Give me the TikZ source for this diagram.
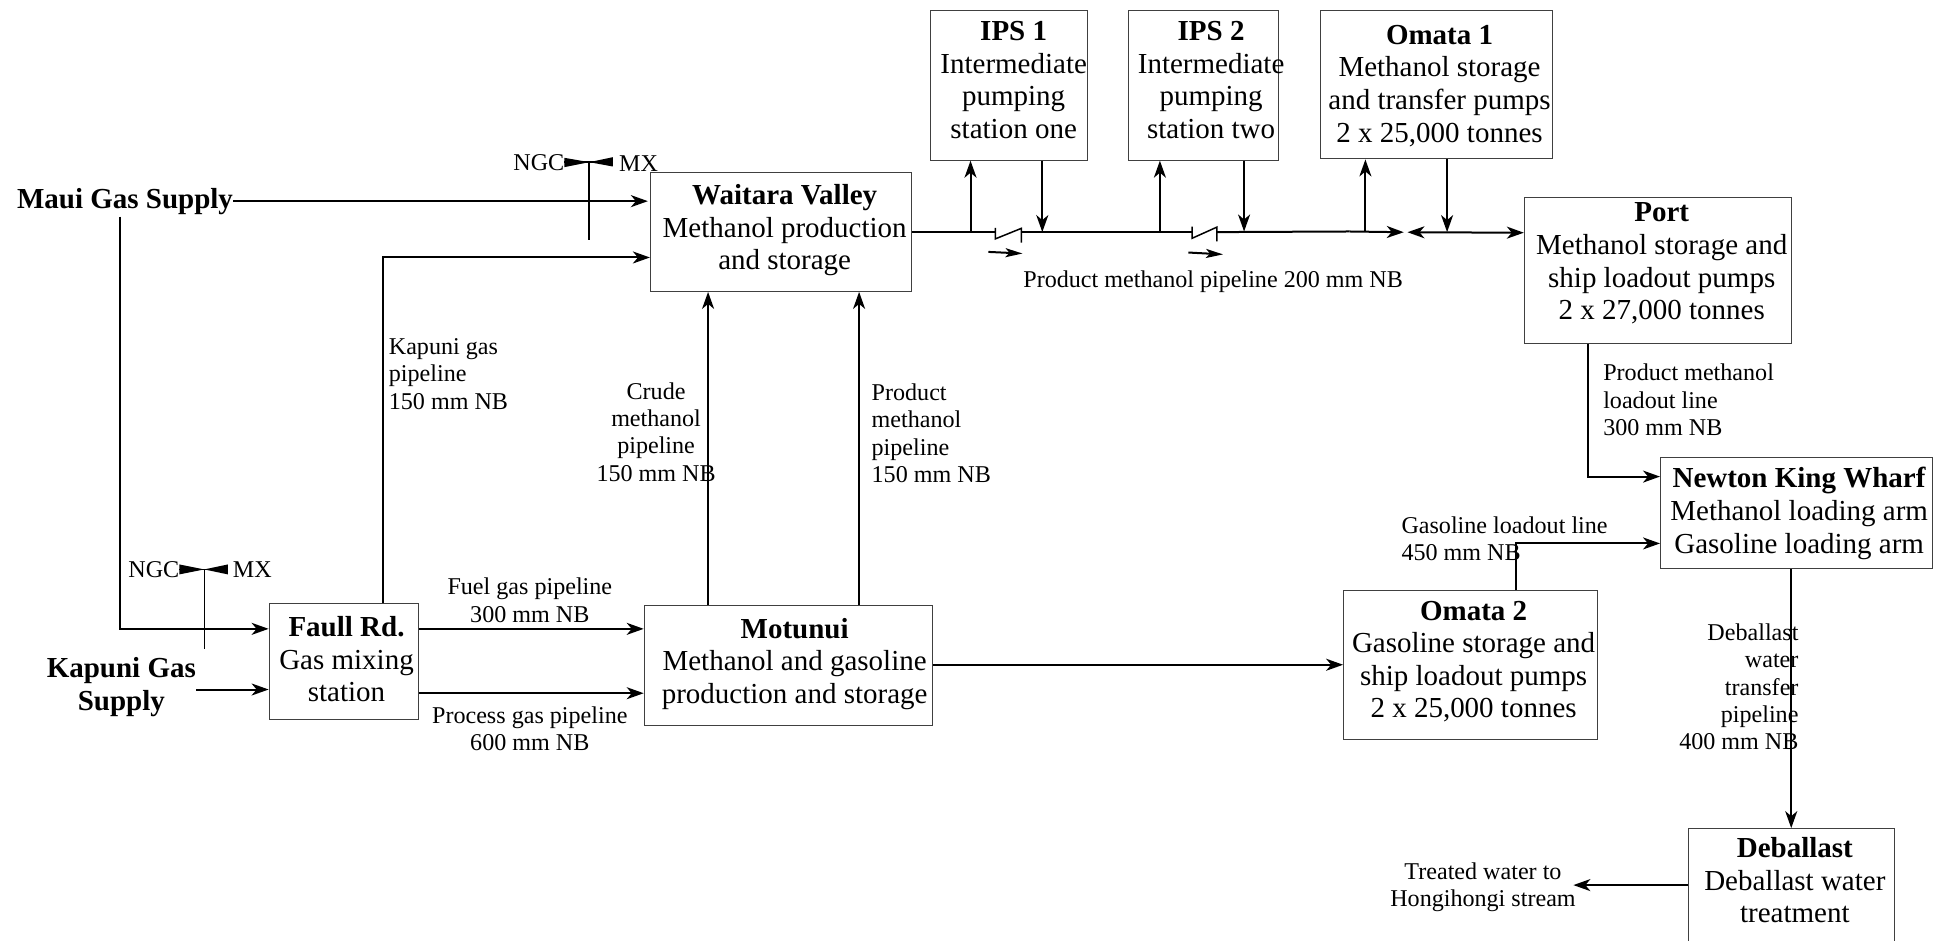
\documentclass[tikz,border=0pt]{standalone}
\usepackage{fontspec}
\setmainfont{Liberation Serif}
\usetikzlibrary{arrows.meta}
\newcommand{\bigf}{\fontsize{29pt}{32.6pt}\selectfont}
\newcommand{\labf}{\fontsize{24.1pt}{27.3pt}\selectfont}
\tikzset{
  box/.style={draw=black!75,line width=1pt,inner sep=0pt,font=\bigf},
  lbl/.style={inner sep=0pt,font=\labf},
  pipe/.style={line width=2pt,black},
  arr/.style={pipe,-{Stealth[length=17pt,width=12pt,inset=5pt]}},
  thinp/.style={line width=1.5pt,black},
}
% text set in a zero-size box, so that it can overhang its box as in the reference
% args: right-shift, rise (pt), rows
\newcommand{\boxtext}[3]{\makebox[0pt][c]{\hspace*{\dimexpr 2\dimexpr #1pt\relax\relax}\raisebox{\dimexpr #2pt-7.25pt\relax}[0pt][0pt]{\begin{tabular}{@{}c@{}}#3\end{tabular}}}}
% name, x0,y0,x1,y1, text right-shift, text rise, rows
\newcommand{\bx}[8]{%
  \node[box,minimum width=#4*1.238pt-#2*1.238pt,minimum height=#5*1.238pt-#3*1.238pt,anchor=north west] (#1) at (#2,#3)
  {\boxtext{#6}{#7}{#8}};}
\begin{document}
\begin{tikzpicture}[x=1.238pt,y=-1.238pt]
\useasboundingbox (0,0) rectangle (1568,760.1);
% boxes
\bx{ips1}{751}{8}{878}{129}{4.9}{3.4}{\textbf{IPS 1}\\Intermediate\\pumping\\station one}
\bx{ips2}{911}{8}{1032}{129}{8}{3.4}{\textbf{IPS 2}\\Intermediate\\pumping\\station two}
\bx{om1}{1066}{8}{1254}{128}{3.1}{-0.9}{\textbf{Omata 1}\\Methanol storage\\and transfer pumps\\2 x 25,000 tonnes}
\bx{port}{1231}{159}{1447}{277}{3.7}{7.2}{\textbf{Port}\\Methanol storage and\\ship loadout pumps\\2 x 27,000 tonnes}
\bx{wv}{525}{139}{736}{235}{3.7}{2.5}{\textbf{Waitara Valley}\\Methanol production\\and storage}
\bx{nk}{1341}{369}{1561}{459}{2.5}{0}{\textbf{Newton King Wharf}\\Methanol loading arm\\Gasoline loading arm}
\bx{om2}{1085}{477}{1290}{597}{3.1}{3.7}{\textbf{Omata 2}\\Gasoline storage and\\ship loadout pumps\\2 x 25,000 tonnes}
\bx{mot}{520}{489}{753}{586}{6.2}{2.8}{\textbf{Motunui}\\Methanol and gasoline\\production and storage}
\bx{faull}{217}{487}{338}{581}{2.5}{0}{\textbf{Faull Rd.}\\Gas mixing\\station}
\node[box,draw=none,minimum width=166*1.238pt,minimum height=84*1.238pt,anchor=north west] (deb) at (1364,669) {\boxtext{3.1}{-2.1}{\textbf{Deballast}\\Deballast water\\treatment}};
\draw[draw=black!75,line width=1pt] (deb.west |- 0,775) |- (deb.north east) -- (deb.east |- 0,775);
% source labels
\node[inner sep=0pt,font=\bigf\bfseries] (maui) at (101,162.5) {Maui Gas Supply};
\node[inner sep=0pt,font=\bigf\bfseries,align=center] (kap) at (98,555) {Kapuni Gas\\Supply};
% text labels
\node[lbl,align=left,anchor=west] (l1) at (314,302) {Kapuni gas\\pipeline\\150 mm NB};
\node[lbl,align=center] (l2) at (428,485) {Fuel gas pipeline\\300 mm NB};
\node[lbl,align=center] (l3) at (428,588.5) {Process gas pipeline\\600 mm NB};
\node[lbl,align=center] (l4) at (530,349) {Crude\\methanol\\pipeline\\150 mm NB};
\node[lbl,align=left,anchor=west] (l5) at (704,350) {Product\\methanol\\pipeline\\150 mm NB};
\node[lbl] (l6) at (980,227.5) {Product methanol pipeline 200 mm NB};
\node[lbl,align=left,anchor=west] (l7) at (1295,323) {Product methanol\\loadout line\\300 mm NB};
\node[lbl,align=left,anchor=west] (l8) at (1132,435) {Gasoline loadout line\\450 mm NB};
\node[lbl,align=right,anchor=east] (l9) at (1453,555) {Deballast\\water\\transfer\\pipeline\\400 mm NB};
\node[lbl,align=center] (l10) at (1198,717) {Treated water to\\Hongihongi stream};
\node[lbl,anchor=east] (ngc1) at (456,131) {NGC};
\node[lbl,anchor=west] (mx1) at (500,132) {MX};
\node[lbl,anchor=east] (ngc2) at (145,460) {NGC};
\node[lbl,anchor=west] (mx2) at (188,460) {MX};
% coordinates
\coordinate (v1) at (476,131);
\coordinate (v1b) at (476,194);
\coordinate (v2) at (165,460);
\coordinate (v2b) at (165,524);
\coordinate (mauid) at (97,175);
\coordinate (jn) at (1134,187.6);
\coordinate (jn2) at (1137,187.6);
% gas connectors
\draw[arr] (maui.east) -- ([xshift=-2pt]wv.west |- maui.east);
\draw[arr] (mauid) |- (faull.west |- 0,508);
\draw[arr] (kap.east |- 0,557) -- (faull.west |- 0,557);
\draw[arr] (faull.north -| 309,0) |- (wv.west |- 0,208);
\draw[arr] (faull.east |- 0,508) -- (mot.west |- 0,508);
\draw[arr] (faull.east |- 0,560) -- (mot.west |- 0,560);
\draw[arr] (mot.north -| 572,0) -- (wv.south -| 572,0);
\draw[arr] (mot.north -| 694,0) -- (wv.south -| 694,0);
\draw[arr] (mot.east |- 0,537) -- (om2.west |- 0,537);
\draw[arr] (om2.north -| 1225,0) |- (nk.west |- 0,439);
\draw[arr] (port.south -| 1283,0) |- (nk.west |- 0,385);
\draw[arr] (nk.south -| 1447,0) -- (deb.north -| 1447,0);
\draw[arr] (deb.west |- 0,715) -- (1271,715);
% methanol line
\draw[pipe] (wv.east |- 0,187.5) -- (804,187.5);
\draw[pipe] (825,187.5) -- (963,187.5);
\draw[pipe] (983,187.5) -- (1090,187);
\draw[arr] (1090,187) -- (jn);
\draw[pipe,{Stealth[length=17pt,width=12pt,inset=5pt]}-{Stealth[length=17pt,width=12pt,inset=5pt]}] (jn2) -- (port.west |- 0,188);
\draw[arr] (784,187.5) -- (ips1.south -| 784,0);
\draw[arr] (ips1.south -| 842,0) -- (842,187.5);
\draw[arr] (937,187.5) -- (ips2.south -| 937,0);
\draw[arr] (ips2.south -| 1005,0) -- (1005,187);
\draw[arr] (1103,187) -- (om1.south -| 1103,0);
\draw[arr] (om1.south -| 1169,0) -- (1169,187.5);
% check valves
\draw[thinp] (804,184) -- (804,193) -- (825,184.5) -- (825,196);
\draw[thinp] (963,183) -- (963,192.5) -- (983,183.5) -- (983,195);
\draw[pipe,-{Stealth[length=17pt,width=9pt,inset=4pt]}] (798.5,203.5) -- (826,204.8);
\draw[pipe,-{Stealth[length=17pt,width=9pt,inset=4pt]}] (960,204) -- (988,205.5);
% bow-tie valves
\fill (v1) -- (456,127.5) -- (456,135) -- cycle;
\fill (v1) -- (495,127) -- (495,134.5) -- cycle;
\draw[thinp] (456,131) -- (495,131);
\draw[thinp] (v1) -- (v1b);
\fill (v2) -- (145,456) -- (145,464) -- cycle;
\fill (v2) -- (184,456) -- (184,464) -- cycle;
\draw[thinp] (145,460) -- (184,460);
\draw[thinp] (v2) -- (v2b);
\end{tikzpicture}
\end{document}
